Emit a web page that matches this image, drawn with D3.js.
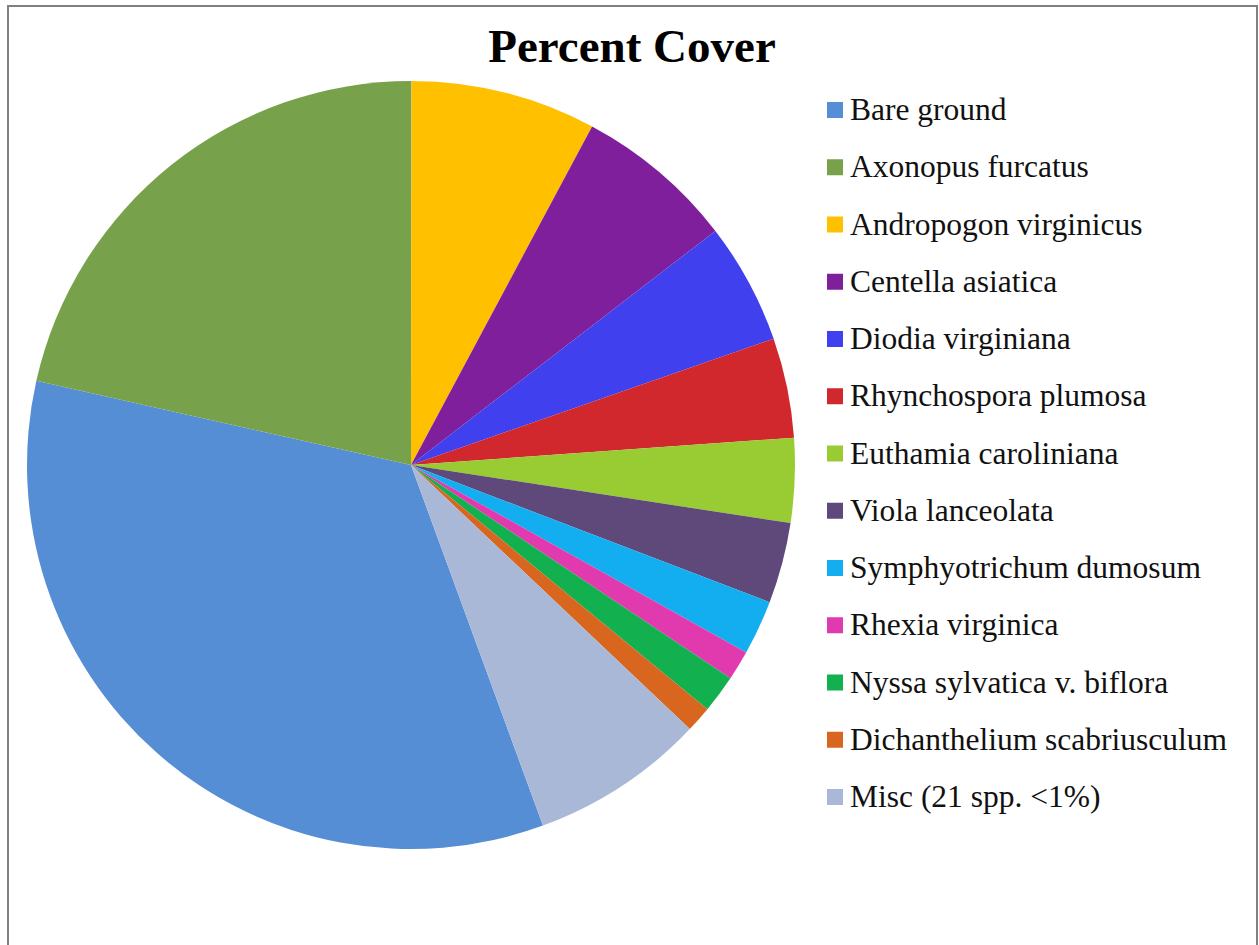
<!DOCTYPE html>
<html>
<head>
<meta charset="utf-8">
<script src="https://cdn.jsdelivr.net/npm/d3@7"></script>
<style>
  html, body { margin: 0; padding: 0; background: #fff; }
  svg { display: block; }
</style>
</head>
<body>
<div id="chart"></div>
<script>
(function () {
  'use strict';

  // legend / slice order (clockwise, Excel style)
  var species = [
    "Bare ground", "Axonopus furcatus", "Andropogon virginicus", "Centella asiatica",
    "Diodia virginiana", "Rhynchospora plumosa", "Euthamia caroliniana", "Viola lanceolata",
    "Symphyotrichum dumosum", "Rhexia virginica", "Nyssa sylvatica v. biflora",
    "Dichanthelium scabriusculum", "Misc (21 spp. <1%)"
  ];
  var cover = [34.1, 21.5, 7.8, 6.75, 5.1, 4.2, 3.55, 3.4, 2.3, 1.25, 1.6, 1.1, 7.35];
  var colors = [
    "#558ed5", "#77a24b", "#ffc000", "#7f1f9c", "#4040ee", "#d0282c", "#99cc33",
    "#5f497a", "#13aef0", "#e03aae", "#12b04e", "#d9661e", "#aab8d8"
  ];

  var width = 1259, height = 945;
  var cx = 411, cy = 465, radius = 384;
  var firstSliceAngle = 159.9; // degrees, Bare ground starts here

  var svg = d3.select("#chart").append("svg")
    .attr("width", width)
    .attr("height", height);

  // chart frame
  svg.append("rect")
    .attr("x", 8).attr("y", 6)
    .attr("width", 1249).attr("height", 980)
    .attr("fill", "#fff")
    .attr("stroke", "#808080")
    .attr("stroke-width", 2);

  svg.append("text")
    .attr("x", 632).attr("y", 62)
    .attr("text-anchor", "middle")
    .style("font-family", "'Liberation Serif', 'Times New Roman', serif")
    .style("font-weight", "bold")
    .style("font-size", "47px")
    .text("Percent Cover");

  var start = firstSliceAngle * Math.PI / 180;
  var pie = d3.pie()
    .sort(null)
    .value(function (d) { return d; })
    .startAngle(start)
    .endAngle(start + 2 * Math.PI);

  var arc = d3.arc().innerRadius(0).outerRadius(radius);

  svg.append("g")
    .attr("transform", "translate(" + cx + "," + cy + ")")
    .selectAll("path")
    .data(pie(cover))
    .enter().append("path")
    .attr("d", arc)
    .attr("fill", function (d, i) { return colors[i]; });

  var legendY = d3.scalePoint()
    .domain(species)
    .range([110, 797]);

  var legend = svg.append("g")
    .selectAll("g")
    .data(species)
    .enter().append("g")
    .attr("transform", function (d) { return "translate(827," + legendY(d) + ")"; });

  legend.append("rect")
    .attr("x", 0).attr("y", -8)
    .attr("width", 16).attr("height", 16)
    .attr("fill", function (d, i) { return colors[i]; });

  legend.append("text")
    .attr("x", 23)
    .attr("y", 10)
    .style("font-family", "'Liberation Serif', 'Times New Roman', serif")
    .style("font-size", "31.5px")
    .style("fill", "#111")
    .text(function (d) { return d; });
})();
</script>
</body>
</html>
